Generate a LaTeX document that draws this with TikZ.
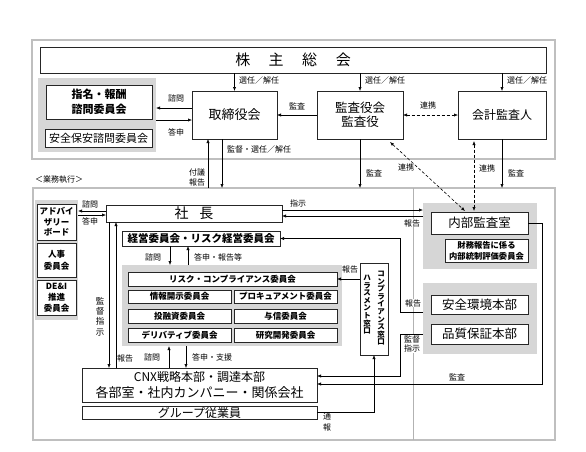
\documentclass[tikz,border=0pt]{standalone}
\usepackage{fontspec}
\setmainfont{Noto Sans CJK JP}
\usetikzlibrary{arrows.meta,calc}
\newcommand{\placebox}[6]{\node[#1, minimum width={(#4-#2)*1pt}, minimum height={(#5-#3)*1pt}] (#6) at ({(#2+#4)/2},{(#3+#5)/2})}
\tikzset{
 every node/.style={inner sep=0pt, outer sep=0pt},
 bx/.style={draw=black!85, line width=0.7pt, fill=white, align=center},
 grp/.style={fill=black!16, draw=none},
 frame/.style={draw=black!25, line width=1.3pt},
 lbl/.style={font=\fontsize{8}{9}\selectfont},
 wl/.style={fill=white, inner sep=0.5pt},
 arr/.style={-{Latex[length=4pt,width=3.2pt]}, line width=0.6pt},
 darr/.style={{Latex[length=4pt,width=3.2pt]}-{Latex[length=4pt,width=3.2pt]}, line width=0.6pt, dash pattern=on 3pt off 2pt},
 divl/.style={draw=black!30, line width=0.6pt},
}
\begin{document}
\begin{tikzpicture}[x=1pt,y=-1pt]
\fill[white] (0,0) rectangle (586,451);
\useasboundingbox (0,0) rectangle (586,451);

% frames
\placebox{frame}{32}{40}{555}{159}{topgrp} {};
\placebox{frame}{33}{188}{555}{440}{botgrp} {};
\coordinate (dv1) at (413,188);
\coordinate (dv2) at (413,440);
\draw[divl] (dv1) -- (dv2);

% gray groups
\placebox{grp}{38}{78}{156}{152}{gL} {};
\placebox{grp}{35}{200}{78}{320}{gA} {};
\placebox{grp}{122}{265}{342}{346}{gR} {};
\placebox{grp}{423}{203}{537}{269}{gN} {};
\placebox{grp}{423}{283}{537}{354}{gS} {};

% top boxes
\placebox{bx,font=\fontsize{15}{17}\selectfont}{40}{47}{546}{73}{kabu} {株\hspace{18.5pt}主\hspace{18.5pt}総\hspace{18.5pt}会};
\placebox{bx,font=\bfseries\fontsize{11}{15}\selectfont}{46}{85}{152}{119}{shimei} {指名・報酬\\諮問委員会};
\placebox{bx,font=\fontsize{11}{13}\selectfont}{45}{129}{152}{147}{anzen} {安全保安諮問委員会};
\placebox{bx,font=\fontsize{13}{15}\selectfont}{192}{91}{277}{139}{tori} {取締役会};
\placebox{bx,font=\fontsize{12.5}{14.5}\selectfont}{317}{91}{403}{139}{kansa} {監査役会\\監査役};
\placebox{bx,font=\fontsize{12}{14}\selectfont}{458}{91}{546}{139}{kaikei} {会計監査人};

% left column
\placebox{bx,font=\bfseries\fontsize{8.5}{10.5}\selectfont}{37}{204}{76}{240}{adv} {アドバイ\\ザリー\\ボード};
\placebox{bx,font=\bfseries\fontsize{8.5}{12}\selectfont}{37}{243}{76}{277}{jinji} {人事\\委員会};
\placebox{bx,font=\bfseries\fontsize{8.5}{11}\selectfont}{37}{280}{76}{315}{dei} {DE\&I\\推進\\委員会};

% executive boxes
\placebox{bx,font=\fontsize{14}{16}\selectfont}{106}{205}{282}{222}{shacho} {社\hspace{11pt}長};
\placebox{bx,font=\bfseries\fontsize{10.5}{12}\selectfont}{122}{231}{280}{246}{keiei} {経営委員会・リスク経営委員会};
\placebox{bx,font=\bfseries\fontsize{8.5}{10}\selectfont}{128}{272}{337}{286}{risk} {リスク・コンプライアンス委員会};
\placebox{bx,font=\bfseries\fontsize{8.5}{10}\selectfont}{128}{290}{231}{303}{joho} {情報開示委員会};
\placebox{bx,font=\bfseries\fontsize{8.5}{10}\selectfont}{234}{290}{337}{303}{proc} {プロキュアメント委員会};
\placebox{bx,font=\bfseries\fontsize{8.5}{10}\selectfont}{128}{309}{231}{323}{toyu} {投融資委員会};
\placebox{bx,font=\bfseries\fontsize{8.5}{10}\selectfont}{234}{309}{337}{323}{yoshin} {与信委員会};
\placebox{bx,font=\bfseries\fontsize{8.5}{10}\selectfont}{128}{328}{231}{342}{deri} {デリバティブ委員会};
\placebox{bx,font=\bfseries\fontsize{8.5}{10}\selectfont}{234}{328}{337}{342}{kenkyu} {研究開発委員会};
\placebox{bx}{360}{263}{388}{355}{comp} {};
\node[anchor=north, align=center, font=\bfseries\fontsize{7.5}{7.6}\selectfont] (c1) at (381,271) {コ\\ン\\プ\\ラ\\イ\\ア\\ン\\ス\\窓\\口};
\node[anchor=north, align=center, font=\bfseries\fontsize{7.5}{7.6}\selectfont] (c2) at (367,275) {ハ\\ラ\\ス\\メ\\ン\\ト\\窓\\口};
\placebox{bx,font=\fontsize{13}{15.5}\selectfont}{82}{368}{317}{402}{cnx} {{\fontsize{12}{15.5}\selectfont CNX戦略本部・調達本部}\\各部室・社内カンパニー・関係会社};
\placebox{bx,font=\fontsize{12}{14}\selectfont}{82}{406}{317}{419}{group} {グループ従業員};

% right boxes
\placebox{bx,font=\fontsize{12.5}{14}\selectfont}{431}{212}{528}{234}{naibu} {内部監査室};
\placebox{bx,font=\bfseries\fontsize{8.3}{11}\selectfont}{445}{239}{528}{262}{zaimu} {財務報告に係る\\内部統制評価委員会};
\placebox{bx,font=\fontsize{12.5}{14}\selectfont}{431}{295}{528}{314}{ankan} {安全環境本部};
\placebox{bx,font=\fontsize{12.5}{14}\selectfont}{431}{324}{528}{344}{hinshitsu} {品質保証本部};

% connectors (top)
\draw[arr] (tori.north |- kabu.south) -- (tori.north);
\draw[arr] (kansa.north |- kabu.south) -- (kansa.north);
\draw[arr] (kaikei.north |- kabu.south) -- (kaikei.north);
\draw[arr] (kansa.west) -- (tori.east);
\draw[darr] (kansa.east) -- (kaikei.west);
\draw[arr] ([yshift=7pt]tori.west) -- ([yshift=7pt]tori.west -| gL.east);
\draw[arr] ([yshift=-5pt]tori.west -| gL.east) -- ([yshift=-5pt]tori.west);
\draw[arr] ([xshift=-12.5pt]tori.south) -- ([xshift=-12.5pt]tori.south |- botgrp.north);
\draw[arr] ([xshift=-26.5pt]tori.south |- botgrp.north) -- ([xshift=-26.5pt]tori.south);
\draw[arr] (kansa.south) -- (kansa.south |- botgrp.north);
\draw[arr] (kaikei.south) -- (kaikei.south |- botgrp.north);
\draw[darr] ([xshift=-13pt,yshift=-3pt]kansa.south east) -- ([xshift=-14.5pt,yshift=1pt]naibu.north);
\draw[darr] ([xshift=-28pt,yshift=-2pt]kaikei.south) -- ([xshift=-5.5pt,yshift=1pt]naibu.north);

% connectors (execution)
\draw[arr] ([yshift=3.5pt]shacho.east) -- ([yshift=3.5pt]shacho.east -| gN.west);
\draw[arr] ([yshift=-2.5pt]shacho.east -| gN.west) -- ([yshift=-2.5pt]shacho.east);
\draw[arr] ([yshift=2.5pt]shacho.west) -- ([yshift=2.5pt]shacho.west -| gA.east);
\draw[arr] ([yshift=-1.5pt]shacho.west -| gA.east) -- ([yshift=-1.5pt]shacho.west);
\draw[arr] ([xshift=-85pt]shacho.south) -- ([xshift=-85pt]shacho.south |- cnx.north);
\draw[arr] ([xshift=-78pt]shacho.south |- cnx.north) -- ([xshift=-78pt]shacho.south);
\draw[arr] ([xshift=-31pt]keiei.south) -- ([xshift=-31pt]keiei.south |- gR.north);
\draw[arr] ([xshift=-13pt]keiei.south |- gR.north) -- ([xshift=-13pt]keiei.south);
\draw[arr] ([xshift=-30.5pt]cnx.north) -- ([xshift=-30.5pt]cnx.north |- gR.south);
\draw[arr] ([xshift=-13.5pt]cnx.north |- gR.south) -- ([xshift=-13.5pt]cnx.north);
\draw[arr] (comp.west |- risk.east) -- (risk.east);
\draw[arr] (group.east) -| (comp.south);
\coordinate (jR) at (400,238.5);
\coordinate (jK) at (400,376);
\coordinate (jA) at (542,384);
\draw[arr] ([yshift=6.5pt]gS.west) -| (jR) -- (keiei.east);
\draw[arr] ([yshift=-15.5pt]gS.west) -| (jK) -- (jK -| cnx.east);
\draw[arr] (naibu.east) -| (jA) -- (jA -| cnx.east);

% labels
\node[lbl, anchor=west] (ls1) at (239,80) {選任／解任};
\node[lbl, anchor=west] (ls2) at (365,80) {選任／解任};
\node[lbl, anchor=west] (ls3) at (507,80) {選任／解任};
\node[lbl] (lk1) at (297,106) {監査};
\node[lbl] (lr1) at (428,105) {連携};
\node[lbl] (lsh1) at (176,98) {諮問};
\node[lbl] (lto1) at (176,132) {答申};
\node[lbl, anchor=west] (lkan) at (227,149) {監督・選任／解任};
\node[lbl, align=center, font=\fontsize{8}{10}\selectfont] (lfugi) at (197,177) {付議\\報告};
\node[lbl, anchor=west] (lgyomu) at (35,180) {＜業務執行＞};
\node[lbl, anchor=west] (lk2) at (366,173) {監査};
\node[lbl] (lr2) at (406,167) {連携};
\node[lbl] (lr3) at (487,168) {連携};
\node[lbl] (lk3) at (516,173) {監査};
\node[lbl] (lsh2) at (90,204) {諮問};
\node[lbl] (lto2) at (90,221) {答申};
\node[lbl] (lshiji) at (298,203) {指示};
\node[lbl, wl] (lho1) at (412,223) {報告};
\node[lbl] (lsh3) at (153,257) {諮問};
\node[lbl] (lto3) at (218,257) {答申・報告等};
\node[lbl, anchor=north, align=center, font=\fontsize{8.5}{10.3}\selectfont] (lkanshi) at (100,297) {監\\督\\指\\示};
\node[lbl] (lho2) at (125,358) {報告};
\node[lbl] (lsh4) at (152,357) {諮問};
\node[lbl] (lto4) at (212,357) {答申・支援};
\node[lbl] (lho3) at (350,269) {報告};
\node[lbl, anchor=north, align=center, font=\fontsize{8}{10.5}\selectfont] (ltsu) at (327,413) {通\\報};
\node[lbl, wl] (lho4) at (413,303) {報告};
\node[lbl, wl, align=center, font=\fontsize{8}{9}\selectfont] (lkanshi2) at (412,344) {監督\\指示};
\node[lbl] (lk4) at (457,377) {監査};
\end{tikzpicture}
\end{document}
